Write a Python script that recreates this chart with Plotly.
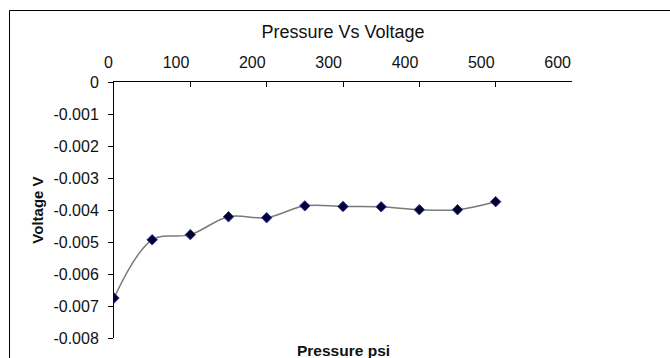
import plotly.graph_objects as go

pressure = [0, 50, 100, 150, 200, 250, 300, 350, 400, 450, 500]
voltage = [-0.00675, -0.00493, -0.00477, -0.00421, -0.00424, -0.00387,
           -0.00389, -0.00390, -0.00399, -0.00399, -0.00374]

x_ticks = [0, 100, 200, 300, 400, 500, 600]
y_ticks = [0, -0.001, -0.002, -0.003, -0.004, -0.005, -0.006, -0.007, -0.008]
y_tick_text = ["0", "-0.001", "-0.002", "-0.003", "-0.004", "-0.005", "-0.006", "-0.007", "-0.008"]

W, H = 670, 358
L, R, T, B = 114, 98, 82, 20
pw, ph = W - L - R, H - T - B

FONT = "Liberation Sans, Arial, sans-serif"

fig = go.Figure()
fig.add_trace(go.Scatter(
    x=pressure, y=voltage, mode="lines+markers",
    line=dict(color="#7a7a7a", width=1.5, shape="spline", smoothing=1),
    marker=dict(symbol="diamond", size=8, color="#000033",
                line=dict(color="#333399", width=1)),
    showlegend=False, hoverinfo="skip",
))

fig.update_layout(
    width=W, height=H,
    margin=dict(l=L, r=R, t=T, b=B),
    paper_bgcolor="white", plot_bgcolor="white",
    font=dict(family=FONT, color="#111111"),
    title=dict(text="Pressure Vs Voltage", x=0.5, xref="paper", xanchor="center",
               y=1 - 31.7 / H, yanchor="middle", yref="container",
               font=dict(size=18, family=FONT, color="#111111")),
    xaxis=dict(
        range=[0, 600], side="top", tickvals=x_ticks,
        ticks="inside", ticklen=5, tickcolor="black", tickwidth=1,
        showline=True, linecolor="black", linewidth=1,
        showgrid=False, zeroline=False,
        ticklabelposition="outside left",
        ticklabelstandoff=7,
        tickfont=dict(size=16, family=FONT, color="#111111"),
    ),
    yaxis=dict(
        range=[-0.008, 0], tickvals=y_ticks, ticktext=y_tick_text,
        ticks="outside", ticklen=5, tickcolor="black", tickwidth=1,
        showline=True, linecolor="black", linewidth=1,
        showgrid=False, zeroline=False,
        ticklabelstandoff=6,
        tickfont=dict(size=16, family=FONT, color="#111111"),
        title=dict(text="<b>Voltage V</b>", standoff=6,
                   font=dict(size=15, family=FONT, color="#111111")),
    ),
)

fig.add_annotation(
    text="<b>Pressure psi</b>", xref="paper", yref="paper",
    x=0.5, y=(H - B - 350) / ph, xanchor="center", yanchor="middle",
    showarrow=False, font=dict(size=15.5, family=FONT, color="#111111"),
)

fig.add_shape(
    type="rect", xref="paper", yref="paper",
    x0=(9.5 - L) / pw, x1=1.6, y0=-0.5, y1=(H - B - 10.5) / ph,
    line=dict(color="black", width=1), fillcolor="rgba(0,0,0,0)", layer="below",
)

fig.write_html("out.html")
